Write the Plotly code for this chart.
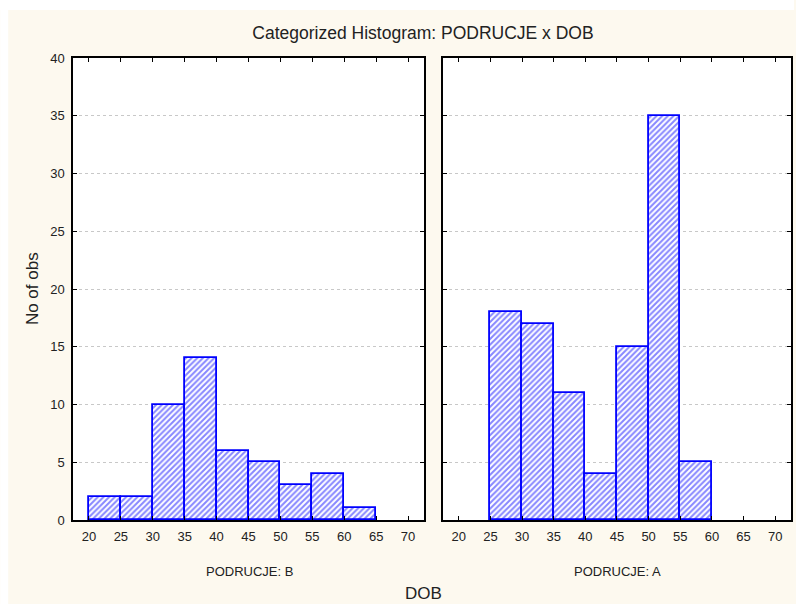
import plotly.graph_objects as go

bin_left = [20, 25, 30, 35, 40, 45, 50, 55, 60, 65]
counts_b = [2, 2, 10, 14, 6, 5, 3, 4, 1, 0]
counts_a = [0, 18, 17, 11, 4, 15, 35, 5, 0, 0]
panel_labels = ["PODRUCJE: B", "PODRUCJE: A"]
x_ticks = [20, 25, 30, 35, 40, 45, 50, 55, 60, 65, 70]
y_ticks = [0, 5, 10, 15, 20, 25, 30, 35, 40]

W, H = 796, 604
ml, mr, mt, mb = 73, 3, 58, 84
pw = W - ml - mr
ph = H - mt - mb
cream = "#FDF9EF"
font_family = "Liberation Sans, Arial, sans-serif"

def px_x(p):
    return (p - ml) / pw

def px_y(p):
    return (H - mb - p) / ph

def bar_style(counts):
    return dict(
        marker=dict(
            color="white",
            line=dict(color="#0000FF", width=[1.8 if c > 0 else 0 for c in counts]),
            pattern=dict(shape="/", fgcolor="#0F0FFF", bgcolor="white", size=4, solidity=0.5),
        ),
        offset=0,
        width=5,
        showlegend=False,
    )

fig = go.Figure()
fig.add_trace(go.Bar(x=bin_left, y=counts_b, xaxis="x", yaxis="y", **bar_style(counts_b)))
fig.add_trace(go.Bar(x=bin_left, y=counts_a, xaxis="x2", yaxis="y2", **bar_style(counts_a)))

axis_common = dict(
    showline=True, linecolor="black", linewidth=1.5, mirror="ticks",
    ticks="inside", ticklen=4, tickwidth=1, tickcolor="black",
    tickfont=dict(family=font_family, size=13, color="#222"),
    zeroline=False,
)

xr = [17.5, 72.5]
yr = [0, 40]

fig.update_layout(
    width=W, height=H,
    margin=dict(l=ml, r=mr, t=mt, b=mb),
    paper_bgcolor=cream,
    plot_bgcolor="white",
    bargap=0,
    font=dict(family=font_family, color="#222"),
    xaxis=dict(domain=[0, px_x(425)], range=xr, tickvals=x_ticks, showgrid=False, anchor="y",
               ticklabelstandoff=4, **axis_common),
    xaxis2=dict(domain=[px_x(444), 1], range=xr, tickvals=x_ticks, showgrid=False, anchor="y2",
                ticklabelstandoff=4, **axis_common),
    yaxis=dict(domain=[0, 1], range=yr, tickvals=y_ticks, showgrid=True, gridcolor="#C8C8C8",
               griddash="dot", gridwidth=1, anchor="x", ticklabelstandoff=4, **axis_common),
    yaxis2=dict(domain=[0, 1], range=yr, tickvals=y_ticks, showgrid=True, gridcolor="#C8C8C8",
                griddash="dot", gridwidth=1, anchor="x2", showticklabels=False, **axis_common),
    title=dict(text="Categorized Histogram: PODRUCJE x DOB", xref="container", x=423 / W, xanchor="center",
               yref="container", y=1 - 33 / H, yanchor="middle", font=dict(size=17.5, color="#222")),
)

# white strips outside the cream area
fig.add_shape(type="rect", xref="paper", yref="paper", x0=px_x(0), x1=px_x(8), y0=px_y(H), y1=px_y(0),
              fillcolor="white", line=dict(width=0), layer="below")
fig.add_shape(type="rect", xref="paper", yref="paper", x0=px_x(0), x1=px_x(W), y0=px_y(10), y1=px_y(0),
              fillcolor="white", line=dict(width=0), layer="below")

fig.add_annotation(text=panel_labels[0], xref="paper", yref="paper", x=px_x(250), y=px_y(571),
                   showarrow=False, font=dict(size=13, color="#222"), xanchor="center", yanchor="middle")
fig.add_annotation(text=panel_labels[1], xref="paper", yref="paper", x=px_x(619), y=px_y(571),
                   showarrow=False, font=dict(size=13, color="#222"), xanchor="center", yanchor="middle")
fig.add_annotation(text="DOB", xref="paper", yref="paper", x=px_x(424), y=px_y(593),
                   showarrow=False, font=dict(size=17, color="#222"), xanchor="center", yanchor="middle")
fig.add_annotation(text="No of obs", xref="paper", yref="paper", x=px_x(32), y=px_y(289),
                   showarrow=False, textangle=-90, font=dict(size=17, color="#222"),
                   xanchor="center", yanchor="middle")

fig.write_html("out.html")
